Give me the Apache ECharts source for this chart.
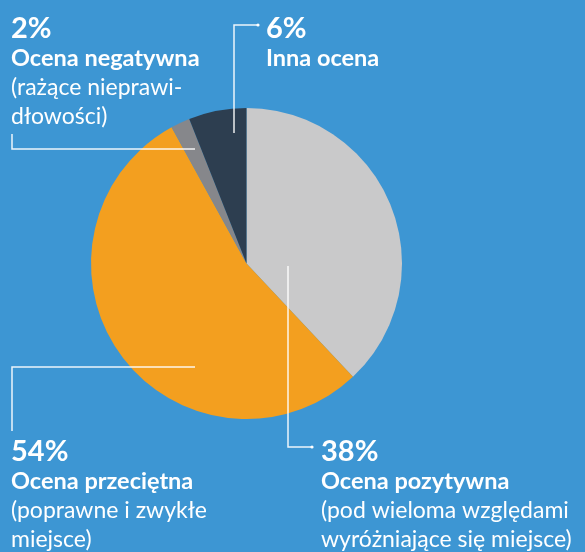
<!DOCTYPE html>
<html><head><meta charset="utf-8">
<script src="https://cdn.jsdelivr.net/npm/echarts@6/dist/echarts.min.js"></script>
<style>html,body{margin:0;padding:0;background:#3d96d3;}#c{width:585px;height:552px;}</style>
</head><body><div id="c"></div>
<script>
const categories = ['Ocena pozytywna', 'Ocena przeciętna', 'Ocena negatywna', 'Inna ocena'];
const values = [38, 54, 2, 6];
const notes = [['(pod wieloma względami', 'wyróżniające się miejsce)'], ['(poprawne i zwykłe', 'miejsce)'], ['(rażące nieprawi-', 'dłowości)'], []];
const colors = ['#c9c9ca', '#f39f1f', '#86878b', '#2d3e50'];

const chart = echarts.init(document.getElementById('c'));
const FONT = 'Lato, "Noto Sans", sans-serif';

function labelText(i) {
  const lines = ['{p|' + values[i] + '%}', '{t|' + categories[i] + '}'];
  notes[i].forEach(n => lines.push('{d|' + n + '}'));
  return lines.join('\n');
}
const rich = {
  p: { fontFamily: FONT, fontWeight: 'bold', fontSize: 29, color: '#fff', lineHeight: 30 },
  t: { fontFamily: FONT, fontWeight: 'bold', fontSize: 23.5, color: '#fff', lineHeight: 29 },
  d: { fontFamily: FONT, fontWeight: 'normal', fontSize: 23, color: '#fff', lineHeight: 29 }
};
function txt(i, x, y) {
  return { type: 'text', x: x, y: y, z: 100, style: { text: labelText(i), rich: rich, fill: '#fff', align: 'left', verticalAlign: 'top' } };
}
const lineStyle = { stroke: 'rgba(255,255,255,0.9)', lineWidth: 1.5, fill: null };
function poly(pts) { return { type: 'polyline', z: 100, shape: { points: pts }, style: lineStyle }; }
function dot(x, y) { return { type: 'circle', z: 100, shape: { cx: x, cy: y, r: 1.6 }, style: { fill: '#fff' } }; }

chart.setOption({
  backgroundColor: '#3d96d3',
  animation: false,
  series: [{
    type: 'pie',
    center: [246.5, 263.5],
    radius: [0, 155.5],
    startAngle: 90,
    clockwise: true,
    label: { show: false },
    labelLine: { show: false },
    silent: true,
    data: categories.map((c, i) => ({ name: c, value: values[i], itemStyle: { color: colors[i] } }))
  }],
  graphic: [
    poly([[12, 134], [12, 149], [195, 149]]),
    poly([[234, 133], [234, 25], [257, 25]]), dot(258, 25),
    poly([[195, 367], [12, 367], [12, 431]]),
    poly([[288, 266], [288, 447], [311, 447]]), dot(312, 447),
    txt(2, 11, 14),
    txt(3, 266, 14),
    txt(1, 11, 437),
    txt(0, 321, 437)
  ]
});
</script></body></html>
